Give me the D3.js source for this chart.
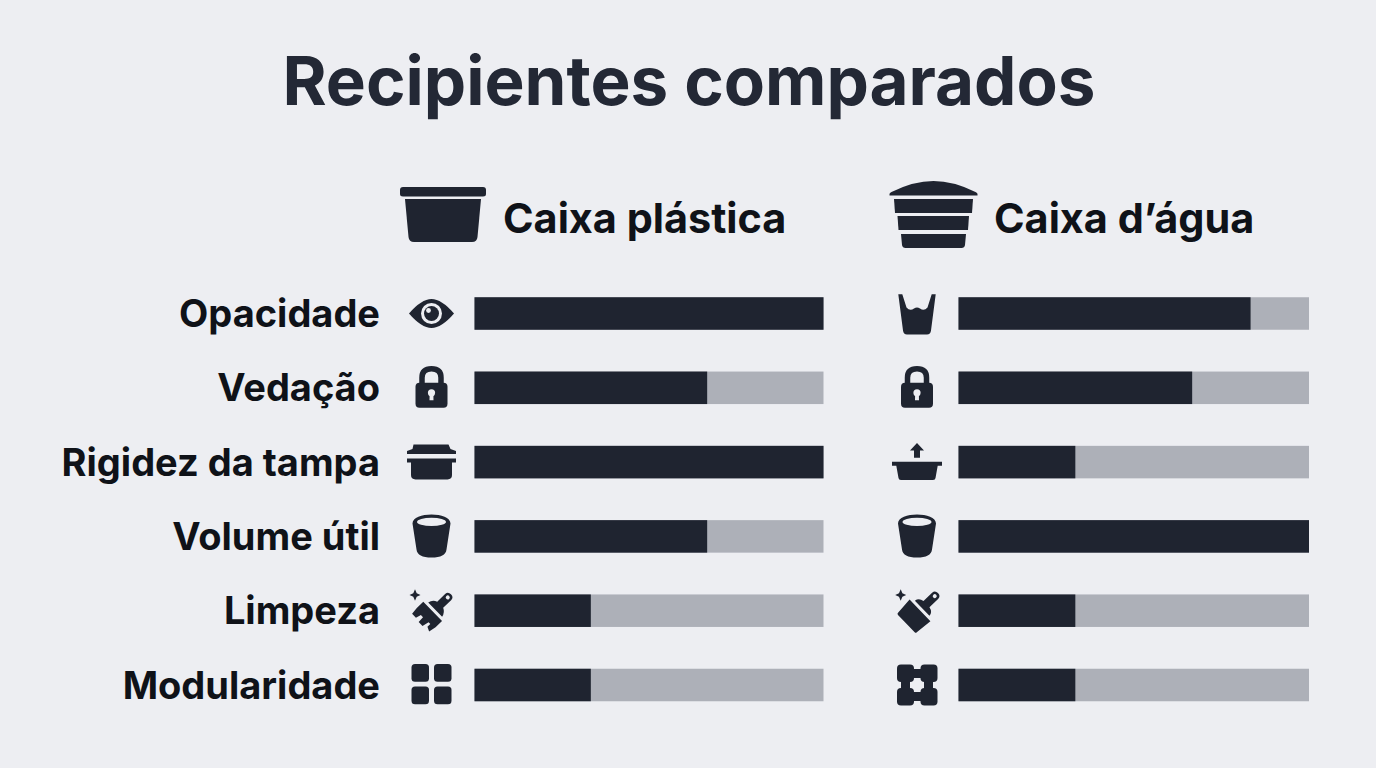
<!DOCTYPE html>
<html><head><meta charset="utf-8">
<script src="https://cdn.jsdelivr.net/npm/d3@7"></script>
<style>html,body{margin:0;padding:0;background:#edeef2}svg{display:block}text{font-family:Inter,sans-serif}</style>
</head><body><svg id="c" width="1376" height="768"></svg>
<script>
const title = "Recipientes comparados";
const categories = ["Opacidade","Vedação","Rigidez da tampa","Volume útil","Limpeza","Modularidade"];
const seriesNames = ["Caixa plástica","Caixa d’água"];
const plasticValues = [3,2,3,2,1,1];
const tankValues = [2.5,2,1,3,1,1];
const maxValue = 3;
const plasticIcons = ["eye","lock","lid","bucket","brush","grid"];
const tankIcons = ["glass","lock","lidUp","bucket","brush2","puzzle"];

const DARK="#1f2430", LIGHT="#adb0b8", BG="#edeef2";
const svg=d3.select("#c");
svg.append("rect").attr("width",1376).attr("height",768).attr("fill",BG);
svg.append("text").attr("x",689).attr("y",105).attr("text-anchor","middle")
  .attr("font-size",67.3).attr("font-weight",700).attr("fill","#232835").text(title);

const y=d3.scalePoint().domain(categories).range([313.5,685]);
const barH=32.5;
const panels=[
 {name:seriesNames[0],values:plasticValues,icons:plasticIcons,x:d3.scaleLinear([0,maxValue],[474.5,823.5]),iconX:431.5,headX:503,head:"box",headC:[443,215]},
 {name:seriesNames[1],values:tankValues,icons:tankIcons,x:d3.scaleLinear([0,maxValue],[958.5,1309]),iconX:917,headX:994,head:"tank",headC:[933.5,215]}
];

// pictograms, in pixels around their own centre
const icons={
 box(g){
  g.append("path").attr("d","M-43,-25Q-43,-28 -40,-28H40Q43,-28 43,-25V-21Q43,-18.5 40,-18.5H-40Q-43,-18.5 -43,-21Z");
  g.append("path").attr("d","M-38,-16H38L34.5,22Q34,27 29,27H-29Q-34,27 -34.5,22Z");
 },
 tank(g){
  g.append("path").attr("d","M-44,-21Q-44,-22 -42,-23Q-20,-34 0,-34Q20,-34 42,-23Q44,-22 44,-21V-19.5H-44Z");
  g.append("path").attr("d","M-39.5,-16H39.5L38.5,-2H-38.5Z");
  g.append("path").attr("d","M-36,1H35.5L34.5,15H-35Z");
  g.append("path").attr("d","M-32.5,19H32.5L31.5,30Q31,33 28,33H-28Q-31,33 -31.5,30Z");
 },
 eye(g){
  g.append("path").attr("d","M-22.5,0Q-10,-14.5 0,-14.5Q10,-14.5 22.5,0Q10,14.5 0,14.5Q-10,14.5 -22.5,0Z");
  g.append("circle").attr("r",10.5).attr("fill",BG);
  g.append("circle").attr("r",7.5);
  g.append("circle").attr("cx",-3).attr("cy",-3).attr("r",2.4).attr("fill",BG);
 },
 lock(g){
  g.append("path").attr("d","M-16,-1Q-16,-5 -12,-5H12Q16,-5 16,-1V16Q16,20 12,20H-12Q-16,20 -16,16Z");
  g.append("path").attr("fill","none").attr("stroke",DARK).attr("stroke-width",5.5).attr("d","M-9.5,-4V-10Q-9.5,-19 0,-19Q9.5,-19 9.5,-10V-4");
  g.append("circle").attr("cy",5).attr("r",3.6).attr("fill",BG);
  g.append("path").attr("fill",BG).attr("d","M-1.8,5H1.8L2,12.5H-2Z");
 },
 lid(g){
  g.append("path").attr("d","M-18,-17.5H17L19,-13L24.5,-11V-8H-24.5V-11L-19,-13Z");
  g.append("path").attr("d","M-24.5,-3.7H24.5V.3H20.5V13Q20.5,17.3 16,17.3H-16Q-20.5,17.3 -20.5,13V.3H-24.5Z");
 },
 lidUp(g){
  g.append("path").attr("d","M0,-19L7,-11.5H3V-4.3H-3V-11.5H-7Z");
  g.append("path").attr("d","M-25,-.3H25V3.7H20.7L18.5,16Q18.3,18 16,18H-16Q-18.3,18 -18.5,16L-20.7,3.7H-25Z");
 },
 bucket(g){
  g.append("path").attr("d","M-19,-13C-19,-25 19,-25 19,-13L15,13Q14,21 0,21Q-14,21 -15,13Z");
  g.append("ellipse").attr("cy",-14.5).attr("rx",14.5).attr("ry",4.2).attr("fill",BG);
 },
 glass(g){
  g.append("path").attr("d","M-18.7,-19.3H-14.7L-10.5,-6Q-7,-2 -3,-5Q0,-7 3,-5Q7,-2 10.5,-6L14.7,-19.3H18.7L14,17Q13.5,21 10,21H-10Q-13.5,21 -14,17Z");
 },
 brush(g){
  const s=g.append("g").attr("transform","translate(1.5,1) rotate(46)");
  s.append("path").attr("d","M-4.3,-10V-21Q-4.3,-25 0,-25Q4.3,-25 4.3,-21V-10Q9,-8 10,-3H-10Q-9,-8 -4.3,-10Z");
  s.append("circle").attr("cy",-20.5).attr("r",2).attr("fill",BG);
  s.append("path").attr("d","M-14,0H13V9L11.5,16.5L7,14.5V10.5H4.5L3,17.5H-2.5L-3,11H-6L-7.5,16.5H-13L-14,9Z");
  g.append("path").attr("d","M-16.5,-21.5L-14.8,-17.5L-11,-15.7L-14.8,-13.9L-16.5,-10L-18.2,-13.9L-22,-15.7L-18.2,-17.5Z");
 },
 brush2(g){
  const s=g.append("g").attr("transform","translate(3,-0.3) rotate(46)");
  s.append("path").attr("d","M-4.3,-9V-21Q-4.3,-25 0,-25Q4.3,-25 4.3,-21V-9Q10,-8 10.5,-3H-10.5Q-10,-8 -4.3,-9Z");
  s.append("circle").attr("cy",-20.5).attr("r",2).attr("fill",BG);
  s.append("path").attr("d","M-15,0H15L13.5,17.5Q13.5,19 12,19H-12Q-13.5,19 -13.5,17.5Z");
  g.append("path").attr("d","M-16.3,-21.5L-14.6,-17.5L-10.8,-15.7L-14.6,-13.9L-16.3,-10L-18,-13.9L-21.8,-15.7L-18,-17.5Z");
 },
 grid(g){
  [[-20,-21],[2.5,-21],[-20,1.5],[2.5,1.5]].forEach(p=>g.append("rect").attr("x",p[0]).attr("y",p[1]).attr("width",17.5).attr("height",17.8).attr("rx",3.5));
 },
 puzzle(g){
  [[-20,-20.5],[3.5,-20.5],[-20,3],[3.5,3]].forEach(p=>g.append("rect").attr("x",p[0]).attr("y",p[1]).attr("width",17).attr("height",17.5).attr("rx",4));
  g.append("rect").attr("x",-6).attr("y",-16).attr("width",12).attr("height",9);
  g.append("rect").attr("x",-6).attr("y",7).attr("width",12).attr("height",9);
  g.append("rect").attr("x",-16).attr("y",-6).attr("width",9).attr("height",12);
  g.append("rect").attr("x",7).attr("y",-6).attr("width",9).attr("height",12);
 }
};

svg.append("g").selectAll("text").data(categories).join("text")
  .attr("x",380).attr("y",d=>y(d)+13.5).attr("text-anchor","end")
  .attr("font-size",38).attr("font-weight",700).attr("fill","#0f1218").text(d=>d);

panels.forEach(p=>{
  const hg=svg.append("g").attr("transform",`translate(${p.headC})`).attr("fill",DARK);
  icons[p.head](hg);
  svg.append("text").attr("x",p.headX).attr("y",233).attr("font-size",41.4).attr("font-weight",700).attr("fill","#0f1218").text(p.name);
  const rows=svg.append("g").selectAll("g").data(categories).join("g");
  rows.append("rect").attr("x",p.x(0)).attr("y",d=>y(d)-barH/2).attr("width",p.x(maxValue)-p.x(0)).attr("height",barH).attr("fill",LIGHT);
  rows.append("rect").attr("x",p.x(0)).attr("y",d=>y(d)-barH/2).attr("width",(d,i)=>p.x(p.values[i])-p.x(0)).attr("height",barH).attr("fill",DARK);
  rows.each(function(d,i){
    const g=d3.select(this).append("g").attr("transform",`translate(${p.iconX},${y(d)})`).attr("fill",DARK);
    icons[p.icons[i]](g);
  });
});
</script></body></html>
